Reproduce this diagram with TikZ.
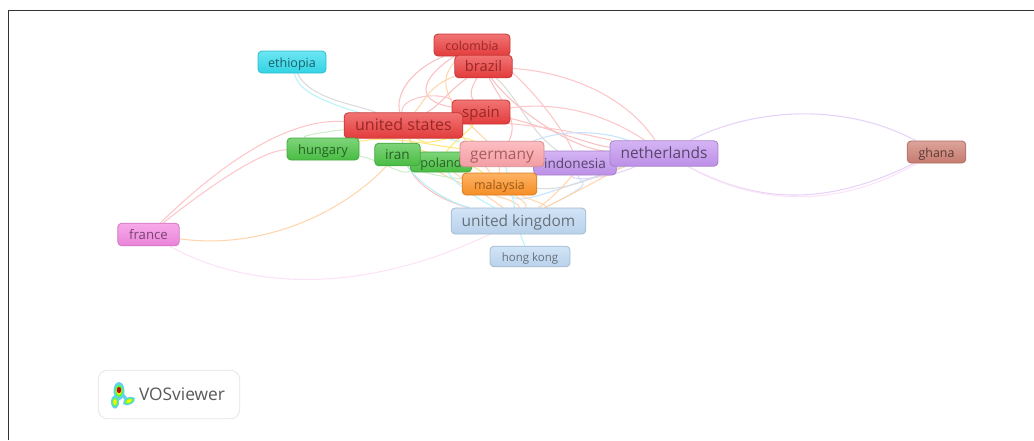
\documentclass[tikz,border=0pt]{standalone}
\usepackage{fontspec}
\setmainfont{Open Sans}
\usetikzlibrary{backgrounds}
\definecolor{nlred}{RGB}{236,62,62}
\definecolor{nlgreen}{RGB}{76,196,70}
\definecolor{nlcyan}{RGB}{52,220,238}
\definecolor{nlpurple}{RGB}{196,150,240}
\definecolor{nlsalmon}{RGB}{252,164,170}
\definecolor{nlorange}{RGB}{255,148,40}
\definecolor{nlblue}{RGB}{192,218,244}
\definecolor{nlpink}{RGB}{244,136,226}
\definecolor{nlbrown}{RGB}{206,128,116}
\tikzset{
  country/.style n args={2}{rounded corners=3pt, draw=#1!85!black, line width=0.6pt,
    top color=#1!72!white, bottom color=#1!96!black, text=#2, inner sep=0pt,
    text height=0.92em, text depth=0.15em},
  redbox/.style={country={nlred}{nlred!65!black}},
  greenbox/.style={country={nlgreen}{nlgreen!50!black}},
  cyanbox/.style={country={nlcyan}{nlcyan!45!black}},
  purplebox/.style={country={nlpurple}{nlpurple!45!black}},
  salmonbox/.style={country={nlsalmon}{nlred!60!black!75!white}},
  orangebox/.style={country={nlorange}{nlorange!60!black}},
  bluebox/.style={country={nlblue}{nlblue!40!black!85!white}},
  pinkbox/.style={country={nlpink}{nlpink!50!black}},
  brownbox/.style={country={nlbrown}{nlbrown!45!black}},
  lkred/.style={draw=nlred!32!white, line width=0.8pt},
  lkpink/.style={draw=nlsalmon!62!white, line width=0.8pt},
  lkorange/.style={draw=nlorange!38!white, line width=0.8pt},
  lkyellow/.style={draw=yellow!70!orange!50!white, line width=0.8pt},
  lkgreen/.style={draw=nlgreen!28!white, line width=0.8pt},
  lkcyan/.style={draw=nlcyan!35!white, line width=0.8pt},
  lkblue/.style={draw=blue!50!cyan!22!white, line width=0.8pt},
  lkpurple/.style={draw=nlpurple!42!white, line width=0.8pt},
  lklilac/.style={draw=nlpink!24!white, line width=0.8pt},
  lkgray/.style={draw=black!14, line width=0.8pt}
}
\begin{document}
\begin{tikzpicture}[x=0.75pt,y=-0.75pt]
\useasboundingbox (0,0) rectangle (1034,440);
% Frame
\draw[line width=1pt, black!80] (8.5,440) -- (8.5,10.5) -- (1034,10.5);
% Countries
\node[cyanbox, minimum width=51pt, minimum height=16.5pt, font=\fontsize{9.4}{10}\selectfont] (ethiopia) at (292,62) {ethiopia};
\node[redbox, minimum width=57pt, minimum height=16.5pt, font=\fontsize{9.3}{10}\selectfont] (colombia) at (472,45) {colombia};
\node[redbox, minimum width=43pt, minimum height=17pt, font=\fontsize{11}{12}\selectfont] (brazil) at (483.5,66.5) {brazil};
\node[redbox, minimum width=43.5pt, minimum height=18pt, font=\fontsize{11.2}{12}\selectfont] (spain) at (481,112) {spain};
\node[redbox, minimum width=89pt, minimum height=19pt, font=\fontsize{12}{13}\selectfont] (usa) at (403.5,125.5) {united states};
\node[greenbox, minimum width=54pt, minimum height=16.5pt, font=\fontsize{9.7}{10}\selectfont] (hungary) at (323,149) {hungary};
\node[greenbox, minimum width=46pt, minimum height=15pt, font=\fontsize{9.5}{10}\selectfont] (poland) at (441,162) {poland};
\node[greenbox, minimum width=34pt, minimum height=17pt, font=\fontsize{10.2}{11}\selectfont] (iran) at (397.5,154.5) {iran};
\node[purplebox, minimum width=62pt, minimum height=18pt, font=\fontsize{10.2}{11}\selectfont] (indonesia) at (575,163) {indonesia};
\node[salmonbox, minimum width=63pt, minimum height=19pt, font=\fontsize{11.6}{13}\selectfont] (germany) at (502,154) {germany};
\node[purplebox, minimum width=81pt, minimum height=19pt, font=\fontsize{11.6}{13}\selectfont] (netherlands) at (664,153.5) {netherlands};
\node[brownbox, minimum width=44pt, minimum height=16.5pt, font=\fontsize{9.3}{10}\selectfont] (ghana) at (936.5,152) {ghana};
\node[orangebox, minimum width=56pt, minimum height=16.5pt, font=\fontsize{9.3}{10}\selectfont] (malaysia) at (499.5,184) {malaysia};
\node[bluebox, minimum width=101pt, minimum height=19.5pt, font=\fontsize{11.6}{13}\selectfont] (uk) at (518.5,221) {united kingdom};
\node[bluebox, minimum width=60pt, minimum height=15.5pt, font=\fontsize{8.6}{10}\selectfont] (hongkong) at (530,256.5) {hong kong};
\node[pinkbox, minimum width=46pt, minimum height=17pt, font=\fontsize{9.9}{10}\selectfont] (france) at (148.5,234.5) {france};
% Links
\begin{scope}[on background layer]
% France
\draw[lkpink] (france) .. controls (225,160) and (290,118) .. (usa);
\draw[lkpink] (france) .. controls (220,178) and (265,150) .. (hungary);
\draw[lkorange] (france) .. controls (260,250) and (340,215) .. (iran);
\draw[lklilac] (france) .. controls (240,285) and (350,300) .. (uk);
% Ghana
\draw[lkpurple] (netherlands) .. controls (760,105) and (850,105) .. (ghana);
\draw[lkpurple] (netherlands) .. controls (760,205) and (830,205) .. (ghana);
\draw[lklilac] (netherlands) .. controls (770,212) and (850,202) .. (ghana);
% Ethiopia
\draw[lkcyan] (ethiopia) .. controls (300,100) and (350,110) .. (germany);
\draw[lkgray] (ethiopia) .. controls (310,100) and (360,105) .. (usa);
% Colombia, Brazil
\draw[lkred] (colombia) .. controls (410,70) and (395,95) .. (usa);
\draw[lkred] (colombia) .. controls (425,75) and (410,100) .. (spain);
\draw[lkorange] (brazil) .. controls (430,85) and (425,100) .. (usa);
\draw[lkorange] (colombia) .. controls (440,75) and (435,95) .. (germany);
\draw[lkred] (brazil) .. controls (450,90) and (440,105) .. (usa);
\draw[lkred] (brazil) .. controls (470,90) and (470,95) .. (spain);
\draw[lkred] (brazil) .. controls (500,100) and (520,120) .. (germany);
\draw[lkgray] (brazil) .. controls (520,100) and (528,130) .. (indonesia);
\draw[lkred] (brazil) .. controls (510,105) and (570,150) .. (netherlands);
\draw[lkpink] (brazil) .. controls (567,72) and (625,95) .. (netherlands);
\draw[lkpink] (colombia) .. controls (530,80) and (570,140) .. (indonesia);
% Spain
\draw[lkpink] (spain) .. controls (567,100) and (615,120) .. (netherlands);
\draw[lkred] (spain) .. controls (540,125) and (590,145) .. (netherlands);
\draw[lkpink] (spain) .. controls (430,90) and (400,100) .. (usa);
\draw[lkorange] (spain) .. controls (455,125) and (460,135) .. (malaysia);
% United States
\draw[lkyellow] (usa) .. controls (430,150) and (450,130) .. (germany);
\draw[lkyellow] (usa) .. controls (420,160) and (450,150) .. (malaysia);
\draw[lkred] (usa) .. controls (400,180) and (440,200) .. (uk);
\draw[lkpink] (usa) .. controls (520,120) and (590,135) .. (netherlands);
\draw[lkgreen] (usa) .. controls (340,130) and (300,135) .. (hungary);
\draw[lkorange] (usa) .. controls (430,190) and (520,195) .. (uk);
% Green group
\draw[lkgreen] (hungary) .. controls (380,160) and (400,175) .. (poland);
\draw[lkyellow] (hungary) .. controls (390,135) and (430,145) .. (germany);
\draw[lkgreen] (iran) .. controls (420,175) and (470,180) .. (malaysia);
\draw[lkcyan] (iran) .. controls (430,195) and (460,205) .. (uk);
\draw[lkcyan] (poland) .. controls (460,190) and (490,205) .. (uk);
\draw[lkorange] (poland) .. controls (470,185) and (500,205) .. (uk);
\draw[lkyellow] (poland) .. controls (450,145) and (470,130) .. (spain);
% Germany, Indonesia, Netherlands
\draw[lkblue] (germany) .. controls (560,130) and (600,130) .. (netherlands);
\draw[lkblue] (malaysia) .. controls (520,205) and (540,195) .. (netherlands);
\draw[lkpurple] (indonesia) .. controls (570,182) and (610,178) .. (netherlands);
\draw[lkblue] (indonesia) .. controls (580,185) and (600,180) .. (uk);
\draw[lkgray] (malaysia) .. controls (570,192) and (610,170) .. (netherlands);
\draw[lkorange] (uk) .. controls (600,180) and (615,170) .. (netherlands);
\draw[lkorange] (uk) .. controls (550,200) and (570,180) .. (indonesia);
\draw[lkorange] (malaysia) .. controls (530,200) and (550,205) .. (uk);
\draw[lkorange] (germany) .. controls (495,190) and (530,200) .. (uk);
\draw[lkcyan] (hongkong) .. controls (515,225) and (515,200) .. (germany);
\end{scope}
% VOSviewer logo
\node[draw=black!10, rounded corners=7pt, fill=white, minimum width=106pt, minimum height=36.5pt, line width=0.6pt] (logobox) at (169,394.5) {};
\node[font=\fontsize{13}{14}\selectfont, text=black!65, inner sep=0pt] (vosviewer) at (182,394) {VOSviewer};
\draw[cyan!60!white, line width=2.5pt] (119,393) -- (115,400);
\draw[cyan!60!white, line width=2.5pt] (121,393) -- (127,400);
\foreach \blobcol/\blobw in {cyan!60!white/1,green!70!white/0.72,yellow/0.45}{
  \fill[\blobcol] (119,391) ellipse ({5.5*\blobw} and {9*\blobw});
  \fill[\blobcol] (115,402) ellipse ({4*\blobw} and {6.5*\blobw});
  \fill[\blobcol, rotate around={25:(129,401)}] (129,401) ellipse ({6.5*\blobw} and {3.6*\blobw});
}
\fill[red!85!black] (119,390) ellipse (2.2 and 3.2);
\end{tikzpicture}
\end{document}
